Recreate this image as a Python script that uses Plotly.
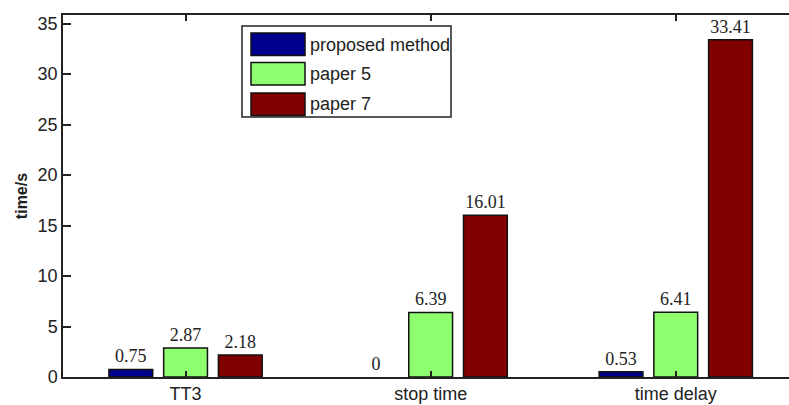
import plotly.graph_objects as go

# Timing comparison of three methods over three metrics
categories = ["TT3", "stop time", "time delay"]
series_names = ["proposed method", "paper 5", "paper 7"]
proposed_method = [0.75, 0, 0.53]
paper_5 = [2.87, 6.39, 6.41]
paper_7 = [2.18, 16.01, 33.41]
y_ticks = [0, 5, 10, 15, 20, 25, 30, 35]

series_values = [proposed_method, paper_5, paper_7]
colors = ["#00008F", "#8FFF70", "#800000"]

W, H = 789, 405
ML, MR, MT, MB = 63, 0, 15, 28
PW, PH = W - ML - MR, H - MT - MB


def px_x(x):
    return (x - ML) / PW


def px_y(y):
    return (H - MB - y) / PH


fig = go.Figure()
xpos = [1, 2, 3]
for name, vals, col in zip(series_names, series_values, colors):
    fig.add_trace(go.Bar(
        x=xpos, y=vals, name=name,
        marker=dict(color=col,
                    line=dict(color="#111111",
                              width=[1.5 if v != 0 else 0 for v in vals])),
        text=[f"{v:g}" for v in vals],
        textposition="outside",
        textfont=dict(family="Liberation Serif", size=18, color="#222222"),
        cliponaxis=False,
        showlegend=False,
    ))

# Boxed legend drawn in the upper left of the plot area
legend_box = dict(x0=242, x1=451, y0=26, y1=117)
fig.add_shape(type="rect", xref="paper", yref="paper",
              x0=px_x(legend_box["x0"]), x1=px_x(legend_box["x1"]),
              y0=px_y(legend_box["y1"]), y1=px_y(legend_box["y0"]),
              line=dict(color="#222222", width=1.5), fillcolor="white", layer="above")
row_tops = [33, 62.5, 93]
for name, col, top in zip(series_names, colors, row_tops):
    fig.add_shape(type="rect", xref="paper", yref="paper",
                  x0=px_x(251), x1=px_x(305),
                  y0=px_y(top + 22.5), y1=px_y(top),
                  line=dict(color="#111111", width=1.5), fillcolor=col, layer="above")
    fig.add_annotation(xref="paper", yref="paper", x=px_x(308), y=px_y(top + 11.5),
                       text=name, showarrow=False, xanchor="left", yanchor="middle",
                       font=dict(family="Liberation Sans", size=18, color="#222222"))

fig.update_layout(
    width=W, height=H,
    margin=dict(l=ML, r=MR, t=MT, b=MB),
    paper_bgcolor="white", plot_bgcolor="white",
    barmode="group", bargap=0.33, bargroupgap=0.2,
    font=dict(family="Liberation Sans", size=18, color="#222222"),
    xaxis=dict(
        range=[0.5, 3.462],
        tickvals=xpos, ticktext=categories,
        ticks="inside", ticklen=6, tickcolor="#222222", tickwidth=1.5,
        showline=True, linecolor="#222222", linewidth=1.5,
        mirror="ticks", showgrid=False, zeroline=False,
        tickfont=dict(size=18),
    ),
    yaxis=dict(
        range=[0, 35.85],
        tickvals=y_ticks,
        ticks="inside", ticklen=8, tickcolor="#222222", tickwidth=1.5,
        showline=True, linecolor="#222222", linewidth=1.5,
        mirror=False, showgrid=False, zeroline=False,
        tickfont=dict(size=18),
        title=dict(text="<b>time/s</b>", font=dict(size=16), standoff=6),
    ),
)

fig.write_html("out.html")
